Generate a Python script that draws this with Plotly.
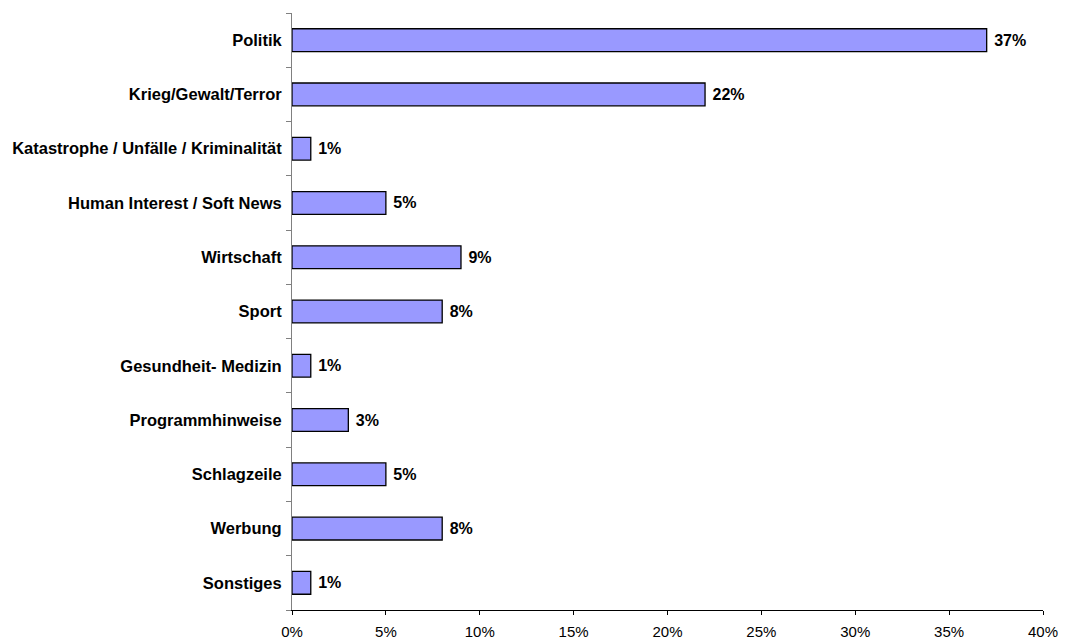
import plotly.graph_objects as go

categories = [
    "Politik",
    "Krieg/Gewalt/Terror",
    "Katastrophe / Unfälle / Kriminalität",
    "Human Interest / Soft News",
    "Wirtschaft",
    "Sport",
    "Gesundheit- Medizin",
    "Programmhinweise",
    "Schlagzeile",
    "Werbung",
    "Sonstiges",
]
shares = [37, 22, 1, 5, 9, 8, 1, 3, 5, 8, 1]
tick_values = [0, 5, 10, 15, 20, 25, 30, 35, 40]
tick_labels = [f"{v}%" for v in tick_values]

fig = go.Figure(
    go.Bar(
        y=categories,
        x=shares,
        orientation="h",
        marker=dict(color="#9999FF", line=dict(color="#000000", width=1.3)),
        text=[f"{v}%" for v in shares],
        texttemplate=" %{text}",
        textposition="outside",
        textfont=dict(family="Liberation Sans, Arial", size=16, color="#000000", weight="bold"),
        cliponaxis=False,
    )
)

fig.update_layout(
    width=1065,
    height=641,
    margin=dict(l=292, r=22, t=13, b=31),
    plot_bgcolor="#FFFFFF",
    paper_bgcolor="#FFFFFF",
    bargap=0.58,
    showlegend=False,
    font=dict(family="Liberation Sans, Arial", color="#000000"),
)

fig.update_xaxes(
    range=[0, 40],
    tickvals=tick_values,
    ticktext=tick_labels,
    showgrid=False,
    zeroline=False,
    showline=True,
    linecolor="#000000",
    linewidth=1,
    ticks="outside",
    ticklen=4,
    tickcolor="#000000",
    tickfont=dict(size=15),
    ticklabelstandoff=4,
    automargin=False,
)

fig.update_yaxes(
    categoryorder="array",
    categoryarray=categories[::-1],
    showgrid=False,
    zeroline=False,
    showline=True,
    linecolor="#808080",
    linewidth=1,
    ticks="outside",
    tickson="boundaries",
    ticklen=5,
    tickcolor="#808080",
    tickfont=dict(size=16.5, weight="bold"),
    ticklabelstandoff=6,
    automargin=False,
)

fig.write_html("out.html")
